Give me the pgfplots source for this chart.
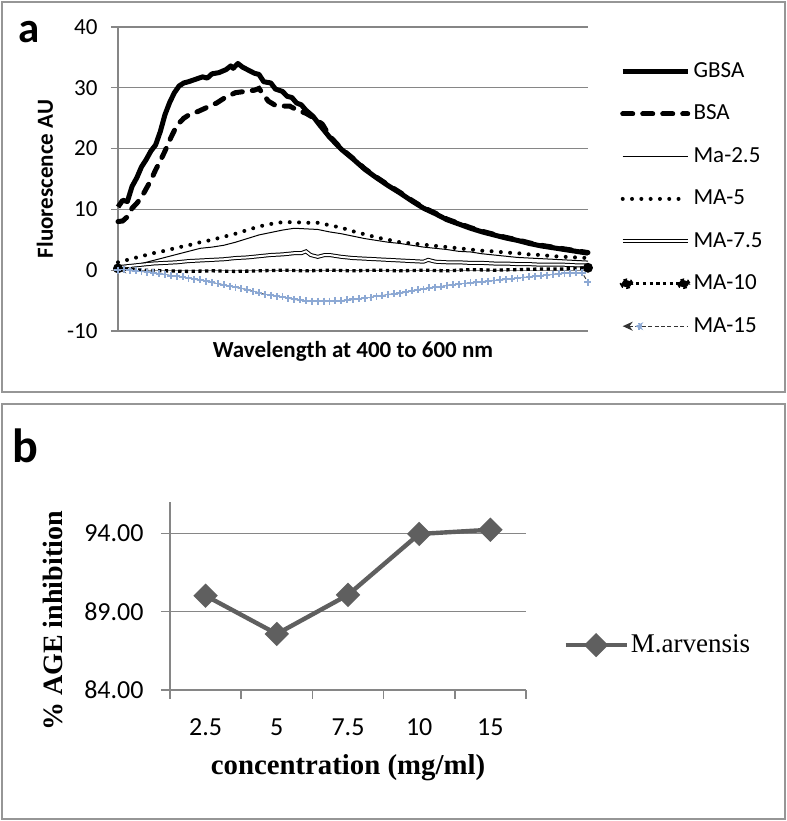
\documentclass[border=0pt]{standalone}
\usepackage{fontspec}
\setmainfont{Carlito}
\newfontfamily\timesf{Liberation Serif}
\usepackage{pgfplots}
\pgfplotsset{compat=1.18}
\usetikzlibrary{arrows.meta}
\definecolor{gridgray}{RGB}{134,134,134}
\definecolor{framegray}{RGB}{150,150,150}
\definecolor{mablue}{RGB}{141,169,212}
\definecolor{bgray}{RGB}{95,95,95}
\begin{document}
\begin{tikzpicture}
\useasboundingbox (0,0) rectangle (393.5pt,410.5pt);
\draw[framegray, line width=1pt] (1pt,409.5pt) rectangle (392.5pt,214.5pt);
\draw[framegray, line width=1pt] (1pt,208.5pt) rectangle (392.5pt,1pt);
\node[anchor=base west, inner sep=0pt, font=\fontsize{21.5}{24}\selectfont\bfseries] at (9pt,389pt) {a};
\node[anchor=base west, inner sep=0pt, font=\fontsize{24}{26}\selectfont\bfseries] at (6pt,179pt) {b};

\begin{axis}[
  at={(59pt,245pt)}, anchor=south west, scale only axis, width=235pt, height=152pt,
  xmin=400, xmax=600, ymin=-10, ymax=40, clip=false,
  axis lines*=left, axis line style={gridgray, line width=0.6pt},
  xtick=\empty, ytick={-10,0,...,40},
  ymajorgrids, major grid style={gridgray, line width=0.6pt},
  tick style={gridgray, line width=0.6pt}, tick align=outside, major tick length=3.5pt,
  /pgf/number format/assume math mode=true,
  ticklabel style={font=\fontsize{11.5}{13}\selectfont},
  yticklabel style={xshift=-3.2pt},
  xlabel={Wavelength at 400 to 600 nm}, ylabel={Fluorescence AU},
  every axis x label/.style={at={(axis description cs:0.5,0)}, anchor=center, yshift=-10pt, font=\fontsize{11.5}{13}\selectfont\bfseries},
  every axis y label/.style={at={(axis description cs:-0.1553,0.5)}, anchor=center, rotate=90, font=\fontsize{11.5}{13}\selectfont\bfseries},
  legend style={draw=none, fill=none, at={(axis description cs:1.067,0.8945)}, anchor=north west,
    font=\fontsize{11.5}{13}\selectfont, row sep=9.3pt, column sep=0pt, inner sep=0pt, nodes={inner sep=1.5pt}},
  legend cell align=left,
  legend image code/.code={\draw[mark repeat=2,mark phase=2,#1] plot coordinates {(0pt,0pt) (16.25pt,0pt) (32.5pt,0pt)};},
]
% GBSA
\addplot[black, line width=2.5pt, line join=round] coordinates {
(400,10.4)(402,11.5)(404,11.3)(406,13.8)(408,15.2)(410,17.0)(412,18.2)(414,19.6)(416,20.6)(418,22.8)(420,25.6)(422,27.6)(424,29.2)(426,30.3)(428,30.8)(430,31.0)(433,31.4)(436,31.8)(438,31.6)(440,32.3)(443,32.5)(446,33.0)(448,33.6)(449,33.2)(451,34.0)(453,33.4)(456,32.8)(458,32.4)(460,32.2)(462,31.0)(465,30.8)(467,29.8)(470,29.4)(472,28.6)(474,28.4)(476,27.5)(478,27.2)(480,26.3)(483,25.3)(486,23.8)(490,21.9)(495,19.9)(500,18.3)(505,16.6)(510,15.2)(515,13.9)(520,12.7)(525,11.4)(530,10.2)(535,9.3)(540,8.3)(545,7.6)(550,6.9)(555,6.3)(560,5.8)(565,5.3)(570,4.9)(575,4.4)(580,4.0)(585,3.7)(590,3.4)(595,3.1)(600,2.8)};
\addlegendentry{GBSA}
% BSA
\addplot[black, line width=2.5pt, line cap=round, dash pattern=on 5pt off 5pt] coordinates {
(400,8.0)(402,8.1)(404,8.8)(406,10.2)(408,11.0)(410,12.0)(412,13.4)(414,14.8)(416,16.5)(418,18.0)(420,19.6)(422,21.4)(424,23.0)(426,24.2)(428,25.0)(430,25.5)(434,26.1)(438,26.8)(442,27.5)(446,28.5)(450,29.2)(454,29.4)(458,29.6)(460,29.9)(462,28.8)(464,27.8)(467,27.1)(470,27.0)(473,27.0)(476,26.4)(480,25.8)(484,24.9)(487,24.0)(490,22.1)(495,20.0)(500,18.4)(505,16.7)(510,15.3)(515,14.0)(520,12.8)(525,11.5)(530,10.3)(535,9.4)(540,8.4)(545,7.7)(550,7.0)(555,6.4)(560,5.9)(565,5.4)(570,5.0)(575,4.5)(580,4.1)(585,3.8)(590,3.5)(595,3.2)(600,2.9)};
\addlegendentry{BSA}
% Ma-2.5
\addplot[black, line width=0.5pt] coordinates {
(400,0.5)(405,0.7)(410,1.1)(415,1.6)(420,2.1)(425,2.6)(430,3.1)(435,3.6)(440,3.8)(445,4.1)(450,4.6)(455,5.2)(460,5.8)(465,6.2)(470,6.6)(475,6.9)(480,6.8)(485,6.7)(490,6.3)(495,6.0)(500,5.6)(505,5.2)(510,4.9)(515,4.6)(520,4.4)(525,4.1)(530,3.8)(535,3.6)(540,3.4)(545,3.1)(550,3.0)(555,2.7)(560,2.5)(565,2.3)(570,2.1)(575,2.0)(580,1.9)(585,1.8)(590,1.7)(595,1.6)(600,1.5)};
\addlegendentry{Ma-2.5}
% MA-5
\addplot[black, line width=2pt, line cap=round, dash pattern=on 0pt off 4.65pt] coordinates {
(400,1.3)(405,1.8)(410,2.3)(415,2.8)(420,3.2)(425,3.7)(430,4.1)(435,4.6)(440,5.0)(445,5.5)(450,6.0)(455,6.6)(460,7.2)(465,7.6)(470,7.9)(475,7.9)(480,7.8)(485,7.8)(490,7.4)(495,7.0)(500,6.4)(505,5.9)(510,5.4)(515,5.0)(520,4.6)(525,4.4)(530,4.2)(535,4.0)(540,3.8)(545,3.6)(550,3.4)(555,3.2)(560,3.1)(565,2.9)(570,2.8)(575,2.6)(580,2.5)(585,2.3)(590,2.2)(595,2.1)(600,2.0)};
\addlegendentry{MA-5}
% MA-7.5
\addplot[black, line width=0.5pt, double=white, double distance=1pt] coordinates {
(400,0.5)(405,0.7)(410,0.9)(415,1.1)(420,1.2)(425,1.3)(430,1.5)(435,1.6)(440,1.7)(445,1.8)(450,2.0)(455,2.1)(460,2.3)(465,2.5)(470,2.6)(475,2.8)(478,2.8)(480,3.1)(482,2.5)(485,2.2)(488,2.5)(490,2.5)(495,2.2)(500,2.0)(505,1.9)(510,1.8)(515,1.7)(520,1.6)(525,1.5)(530,1.4)(532,1.7)(535,1.4)(540,1.3)(545,1.3)(550,1.2)(555,1.2)(560,1.1)(565,1.1)(570,1.0)(575,1.0)(580,0.9)(585,0.9)(590,0.9)(595,0.8)(600,0.8)};
\addlegendentry{MA-7.5}
% MA-10
\addplot[black, line width=1.65pt, dash pattern=on 1.65pt off 1.7pt, mark=*, mark indices={1,21}, mark size=1.6pt, mark options={solid},
  legend image code/.code={\draw[line width=1.65pt, dash pattern=on 1.65pt off 1.7pt] (0pt,0pt) -- (32.5pt,0pt); \fill (2pt,0pt) ellipse (2.6pt and 1.8pt); \fill (30.5pt,0pt) ellipse (2.6pt and 1.8pt);}] coordinates {
(400,0.3)(410,0.0)(420,-0.1)(430,-0.2)(440,-0.1)(450,-0.2)(460,-0.1)(470,0.0)(480,-0.1)(490,0.0)(500,-0.1)(510,0.0)(520,-0.1)(530,0.0)(540,-0.1)(550,0.1)(560,0.0)(570,0.1)(580,0.2)(590,0.2)(600,0.4)};
\addlegendentry{MA-10}
% MA-15
\addplot[black!75, line width=0.5pt, dash pattern=on 2pt off 1.2pt, {Stealth[length=4pt,width=4pt]}-, mark=+, mark size=1.75pt, mark options={solid, draw=mablue, line width=0.9pt},
  legend image code/.code={\draw[black!80, line width=0.6pt, dash pattern=on 2pt off 1.2pt, {Stealth[length=5pt,width=4.5pt]}-] (0pt,0pt) -- (32.5pt,0pt); \draw[mablue, line width=0.8pt] (8pt,-1.75pt) -- (8pt,1.75pt) (6.25pt,0pt) -- (9.75pt,0pt);}] coordinates {
(400.0,0.0)(402.5,0.1)(405.0,0.0)(407.5,-0.1)(410.0,-0.2)(412.5,-0.3)(415.0,-0.4)(417.5,-0.6)(420.0,-0.7)(422.5,-0.9)(425.0,-1.0)(427.5,-1.1)(430.0,-1.3)(432.5,-1.5)(435.0,-1.6)(437.5,-1.8)(440.0,-2.0)(442.5,-2.2)(445.0,-2.4)(447.5,-2.6)(450.0,-2.8)(452.5,-3.0)(455.0,-3.2)(457.5,-3.5)(460.0,-3.7)(462.5,-4.0)(465.0,-4.1)(467.5,-4.3)(470.0,-4.4)(472.5,-4.6)(475.0,-4.8)(477.5,-4.9)(480.0,-5.0)(482.5,-5.1)(485.0,-5.1)(487.5,-5.1)(490.0,-5.1)(492.5,-5.0)(495.0,-5.0)(497.5,-4.9)(500.0,-4.8)(502.5,-4.7)(505.0,-4.6)(507.5,-4.5)(510.0,-4.3)(512.5,-4.2)(515.0,-4.0)(517.5,-3.9)(520.0,-3.8)(522.5,-3.6)(525.0,-3.4)(527.5,-3.2)(530.0,-3.1)(532.5,-2.9)(535.0,-2.8)(537.5,-2.7)(540.0,-2.5)(542.5,-2.4)(545.0,-2.3)(547.5,-2.2)(550.0,-2.1)(552.5,-2.0)(555.0,-1.9)(557.5,-1.8)(560.0,-1.7)(562.5,-1.6)(565.0,-1.5)(567.5,-1.4)(570.0,-1.3)(572.5,-1.2)(575.0,-1.1)(577.5,-1.0)(580.0,-0.9)(582.5,-0.8)(585.0,-0.7)(587.5,-0.6)(590.0,-0.5)(592.5,-0.5)(595.0,-0.4)(597.5,-0.4)(600.0,-2.0)};
\addlegendentry{MA-15}
\end{axis}

\begin{axis}[
  at={(85pt,65.5pt)}, anchor=south west, scale only axis, width=178pt, height=94pt,
  xmin=0.5, xmax=5.5, ymin=84, ymax=96, clip=false,
  axis lines*=left, axis line style={gridgray, line width=0.8pt},
  xtick={0.5,1.5,...,5.5}, x tick label as interval, xticklabels={2.5,5,7.5,10,15},
  ytick={84,89,94},
  yticklabel={\pgfmathprintnumber[fixed,fixed zerofill,precision=2]{\tick}},
  ymajorgrids, major grid style={gridgray, line width=0.8pt},
  tick style={gridgray, line width=0.8pt}, tick align=outside, major tick length=4.5pt,
  /pgf/number format/assume math mode=true,
  ticklabel style={font=\fontsize{13}{15}\selectfont},
  yticklabel style={xshift=-5.2pt},
  xticklabel style={yshift=-6.2pt},
  xlabel={concentration (mg/ml)}, ylabel={\% AGE inhibition},
  every axis x label/.style={at={(axis description cs:0.5,0)}, anchor=center, yshift=-39pt, font=\timesf\fontsize{14.4}{16}\selectfont\bfseries},
  every axis y label/.style={at={(axis description cs:-0.329,0.367)}, anchor=center, rotate=90, font=\timesf\fontsize{14}{16}\selectfont\bfseries},
  legend style={draw=none, fill=none, at={(axis description cs:1.104,0.239)}, anchor=west,
    font=\timesf\fontsize{13.5}{15}\selectfont, inner sep=0pt, nodes={inner sep=1pt}},
  legend image code/.code={\draw[mark repeat=2,mark phase=2,#1] plot coordinates {(0pt,0pt) (15.25pt,0pt) (30.5pt,0pt)};},
]
\addplot[bgray, line width=2.2pt, mark=square*, mark size=3.2pt, mark options={rotate=45, solid}] coordinates {
(1,90.02)(2,87.58)(3,90.07)(4,93.96)(5,94.23)};
\addlegendentry{M.arvensis}
\end{axis}
\end{tikzpicture}
\end{document}
